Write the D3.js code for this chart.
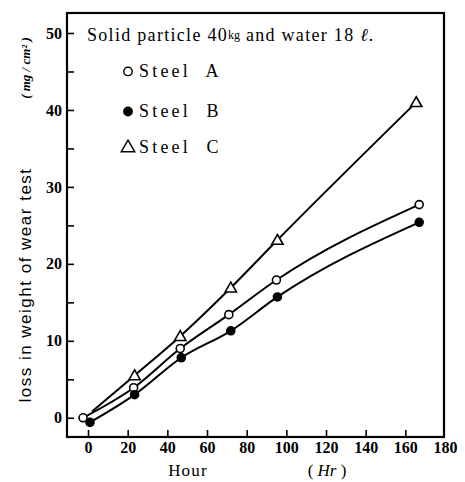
<!DOCTYPE html>
<html>
<head>
<meta charset="utf-8">
<script src="https://cdn.jsdelivr.net/npm/d3@7"></script>
<style>
  body { margin: 0; background: #fff; }
  svg { display: block; }
</style>
</head>
<body>
<svg id="chart" width="465" height="482"></svg>
<script>
const hoursA = [-2.5, 23, 46.5, 71, 95, 167];
const steelA = [0, 3.9, 9.0, 13.4, 17.9, 27.7];
const hoursB = [1, 23.5, 47, 72, 95.5, 167];
const steelB = [-0.6, 3.0, 7.8, 11.3, 15.7, 25.4];
const hoursC = [2, 23.5, 46.5, 72, 95.5, 165.5];
const steelC = [0.8, 5.5, 10.6, 16.9, 23.1, 41.0];
const xTicks = [0, 20, 40, 60, 80, 100, 120, 140, 160, 180];
const yTicks = [0, 10, 20, 30, 40, 50];
const yMinorTicks = [5, 15, 25, 35, 45];

const svg = d3.select("#chart");
const L = 67, R = 444, T = 13, B = 437;
const x = d3.scaleLinear().domain([-10.6, 179.5]).range([L, R]);
const y = d3.scaleLinear().domain([-2.5, 52.6]).range([B, T]);
const serif = "'Liberation Serif', 'DejaVu Serif', serif";

// axes
const xAxis = svg.append("g").attr("transform", `translate(0,${B})`)
  .call(d3.axisBottom(x).tickValues(xTicks).tickSize(-7).tickPadding(5).tickFormat(d3.format("d")));
const yAxis = svg.append("g").attr("transform", `translate(${L},0)`)
  .call(d3.axisLeft(y).tickValues(yTicks).tickSize(-7).tickPadding(5).tickFormat(d3.format("d")));
svg.append("g").attr("transform", `translate(${L},0)`)
  .call(d3.axisLeft(y).tickValues(yMinorTicks).tickSize(-7).tickFormat(""));
svg.selectAll(".domain").remove();
svg.selectAll(".tick line").attr("stroke", "#000").attr("stroke-width", 1.6);
svg.selectAll(".tick text").attr("font-family", serif).attr("font-size", 16)
  .attr("fill", "#000").attr("font-weight", "bold");
xAxis.selectAll(".tick").filter(d => d === 180).select("line").remove();

// frame
svg.append("rect").attr("x", L).attr("y", T).attr("width", R - L).attr("height", B - T)
  .attr("fill", "none").attr("stroke", "#000").attr("stroke-width", 2.2);

// lines
const line = d3.line().x(d => x(d[0])).y(d => y(d[1])).curve(d3.curveMonotoneX);
const series = [
  { h: hoursA, v: steelA, sym: "circle", fill: "#fff", skipFirst: false },
  { h: hoursB, v: steelB, sym: "circle", fill: "#000", skipFirst: false },
  { h: hoursC, v: steelC, sym: "triangle", fill: "#fff", skipFirst: true }
];
series.forEach(s => {
  const pts = s.h.map((h, i) => [h, s.v[i]]);
  svg.append("path").datum(pts).attr("d", line)
    .attr("fill", "none").attr("stroke", "#000").attr("stroke-width", 2);
});
function symbolPath(sym) {
  return sym === "circle" ? d3.symbol(d3.symbolCircle, 50)() : d3.symbol(d3.symbolTriangle, 55)();
}
series.forEach(s => {
  s.h.forEach((h, i) => {
    if (s.skipFirst && i === 0) return;
    svg.append("path").attr("d", symbolPath(s.sym))
      .attr("transform", `translate(${x(h)},${y(s.v[i]) + (s.sym === "triangle" ? 1 : 0)})`)
      .attr("fill", s.fill).attr("stroke", "#000").attr("stroke-width", 1.6);
  });
});

// title / legend
const t = svg.append("text").attr("x", 87).attr("y", 41)
  .attr("font-family", serif).attr("font-size", 18).attr("fill", "#000").attr("letter-spacing", 1.3);
t.append("tspan").text("Solid particle 40");
t.append("tspan").attr("font-size", 12).attr("letter-spacing", 0).attr("dy", -2).text("kg");
t.append("tspan").attr("dy", 2).text(" and water 18 ");
t.append("tspan").attr("font-style", "italic").text("ℓ.");

const legend = [
  { label: "Steel  A", sym: "circle", fill: "#fff", yv: 45 },
  { label: "Steel  B", sym: "circle", fill: "#000", yv: 39.8 },
  { label: "Steel  C", sym: "triangle", fill: "#fff", yv: 35.2 }
];
legend.forEach(l => {
  const cy = y(l.yv);
  svg.append("path").attr("d", l.sym === "circle" ? d3.symbol(d3.symbolCircle, 55)() : d3.symbol(d3.symbolTriangle, 80)())
    .attr("transform", `translate(128,${cy + (l.sym === "triangle" ? 1 : 0)})`)
    .attr("fill", l.fill).attr("stroke", "#000").attr("stroke-width", 1.4);
  svg.append("text").attr("x", 139).attr("y", cy + 6)
    .attr("font-family", serif).attr("font-size", 18).attr("letter-spacing", 3.2)
    .attr("fill", "#000").attr("xml:space", "preserve").style("white-space", "pre").text(l.label);
});

// axis labels
svg.append("text").attr("transform", `translate(31,285) rotate(-90)`)
  .attr("text-anchor", "middle").attr("font-family", "'Liberation Sans', Arial, sans-serif")
  .attr("font-size", 17).attr("letter-spacing", 1.5).attr("fill", "#000")
  .text("loss in weight of wear test");
svg.append("text").attr("transform", `translate(30,68) rotate(-90)`)
  .attr("text-anchor", "middle").attr("font-family", serif).attr("font-weight", "bold")
  .attr("font-style", "italic").attr("font-size", 13).attr("fill", "#000")
  .attr("xml:space", "preserve").style("white-space", "pre")
  .text("( mg / cm² )");
svg.append("text").attr("x", 188).attr("y", 476).attr("text-anchor", "middle")
  .attr("font-family", serif).attr("font-size", 17).attr("letter-spacing", 1.2).attr("fill", "#000").text("Hour");
const hr = svg.append("text").attr("x", 327).attr("y", 476).attr("text-anchor", "middle")
  .attr("font-family", serif).attr("font-size", 17).attr("fill", "#000")
  .attr("xml:space", "preserve").style("white-space", "pre");
hr.append("tspan").text("( ");
hr.append("tspan").attr("font-style", "italic").text("Hr");
hr.append("tspan").text(" )");
</script>
</body>
</html>
